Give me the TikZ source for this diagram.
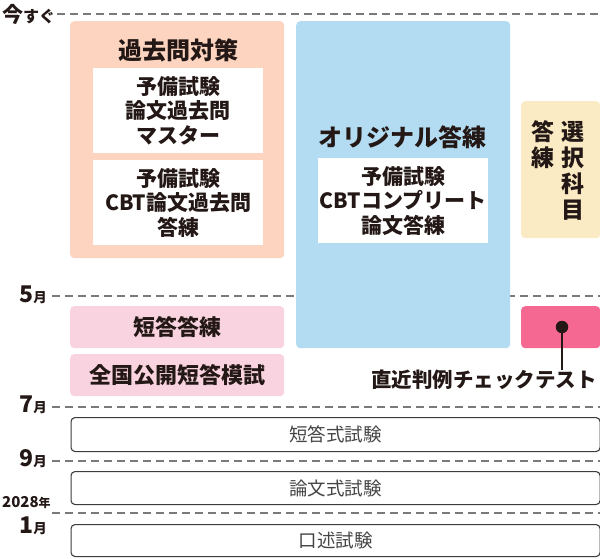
\documentclass[tikz,border=0pt]{standalone}
\usepackage{fontspec}
\setmainfont{Noto Sans CJK JP}
\newfontfamily\jp{Noto Sans CJK JP}
\definecolor{orangec}{HTML}{FCD4BF}
\definecolor{bluec}{HTML}{B3DCF2}
\definecolor{yellowc}{HTML}{FAEBC4}
\definecolor{pinkc}{HTML}{F9D3DF}
\definecolor{redc}{HTML}{F46891}
\definecolor{ink}{HTML}{231815}
\definecolor{dashc}{HTML}{7A7A7A}
\definecolor{borderc}{HTML}{3C3C3C}
\definecolor{examtext}{HTML}{444444}
\begin{document}
\begin{tikzpicture}[x=1pt,y=-1pt,
  font=\jp,
  txt/.style={text=ink, inner sep=0pt, align=center},
  panel/.style={rounded corners=4pt, draw=none, inner sep=0pt, anchor=north west},
  wbox/.style={fill=white, draw=none, inner sep=0pt, anchor=north west},
  tline/.style={draw=dashc, line width=1.3pt, dash pattern=on 7.5pt off 5.5pt},
  exam/.style={draw=borderc, line width=1.1pt, rounded corners=4pt, fill=white, inner sep=0pt, anchor=north west},
  examtxt/.style={text=examtext, inner sep=0pt, font=\jp\fontsize{18.5}{20}\selectfont},
  title/.style={txt, font=\jp\fontsize{24}{26}\selectfont\bfseries},
  boxtxt/.style={txt, font=\jp\fontsize{21}{24.5}\selectfont\bfseries},
  month/.style={txt, anchor=base east},
]
\useasboundingbox (0,0) rectangle (600,558);

% timeline dashed lines
\coordinate (t0a) at (57,14);   \coordinate (t0b) at (600,14);
\coordinate (t5a) at (52,296);  \coordinate (t5b) at (600,296);
\coordinate (t7a) at (52,407);  \coordinate (t7b) at (600,407);
\coordinate (t9a) at (52,461);  \coordinate (t9b) at (600,461);
\coordinate (t1a) at (52,513);  \coordinate (t1b) at (600,513);
\draw[tline] (t0a) -- (t0b);
\draw[tline] (t5a) -- (t5b);
\draw[tline] (t7a) -- (t7b);
\draw[tline] (t9a) -- (t9b);
\draw[tline] (t1a) -- (t1b);

% time labels
\node[txt, anchor=base west] (now) at (2,22) {{\fontsize{21}{21}\selectfont\bfseries 今}{\fontsize{16}{16}\selectfont\bfseries すぐ}};
\node[month] (m5) at (47,302) {{\fontsize{23}{23}\selectfont\bfseries 5}{\fontsize{13.5}{14}\selectfont\bfseries 月}};
\node[month] (m7) at (47,412) {{\fontsize{23}{23}\selectfont\bfseries 7}{\fontsize{13.5}{14}\selectfont\bfseries 月}};
\node[month] (m9) at (47,466) {{\fontsize{23}{23}\selectfont\bfseries 9}{\fontsize{13.5}{14}\selectfont\bfseries 月}};
\node[txt, anchor=base west] (y28) at (2,507) {{\fontsize{15}{15}\selectfont\bfseries 2028}{\fontsize{12}{12}\selectfont\bfseries 年}};
\node[month] (m1) at (47,533) {{\fontsize{23}{23}\selectfont\bfseries 1}{\fontsize{13.5}{14}\selectfont\bfseries 月}};

% past exam panel
\node[panel, fill=orangec, minimum width=214pt, minimum height=237pt] (kako) at (70,21) {};
\node[title] (kakot) at (178,50) {過去問対策};
\node[wbox, minimum width=170pt, minimum height=85pt] (w1) at (93,68) {};
\node[boxtxt] (w1t) at (w1.center) {予備試験\\論文過去問\\マスター};
\node[wbox, minimum width=170pt, minimum height=85pt] (w2) at (93,160) {};
\node[boxtxt] (w2t) at (w2.center) {予備試験\\CBT論文過去問\\答練};

% original panel
\node[panel, fill=bluec, minimum width=214pt, minimum height=327pt] (orig) at (296,21) {};
\node[title] (origt) at (402,137) {オリジナル答練};
\node[wbox, minimum width=170pt, minimum height=85pt] (w3) at (318,158) {};
\node[boxtxt] (w3t) at (w3.center) {予備試験\\CBTコンプリート\\論文答練};

% elective panel
\node[panel, fill=yellowc, minimum width=79pt, minimum height=137pt] (sel) at (521,101) {};
\node[txt, font=\jp\fontsize{23}{26}\selectfont\bfseries] (selr) at (573,171) {選\\択\\科\\目};
\node[txt, font=\jp\fontsize{23}{26}\selectfont\bfseries] (sell) at (543,145) {答\\練};

% short answer panels
\node[panel, fill=pinkc, minimum width=214pt, minimum height=42pt] (p1) at (70,306) {};
\node[txt, font=\jp\fontsize{22}{24}\selectfont\bfseries] (p1t) at (p1.center) {短答答練};
\node[panel, fill=pinkc, minimum width=214pt, minimum height=42pt] (p2) at (70,354) {};
\node[txt, font=\jp\fontsize{22}{24}\selectfont\bfseries] (p2t) at (p2.center) {全国公開短答模試};

% recent case test
\node[panel, fill=redc, minimum width=79pt, minimum height=42pt] (rc) at (521,306) {};
\node[circle, fill=ink, minimum size=12.5pt, inner sep=0pt] (dot) at (562,327) {};
\node[txt, anchor=east, font=\jp\fontsize{20.5}{22}\selectfont\bfseries] (rct) at (597,380) {直近判例チェックテスト};
\draw[ink, line width=2.6pt] (dot.center) -- (dot |- rct.north);

% exams
\node[exam, minimum width=529pt, minimum height=34pt] (e1) at (70.5,417) {};
\node[examtxt] (e1t) at (e1.center) {短答式試験};
\node[exam, minimum width=529pt, minimum height=33pt] (e2) at (70.5,471) {};
\node[examtxt] (e2t) at (e2.center) {論文式試験};
\node[exam, minimum width=529pt, minimum height=32pt] (e3) at (70.5,524) {};
\node[examtxt] (e3t) at (e3.center) {口述試験};
\end{tikzpicture}
\end{document}
